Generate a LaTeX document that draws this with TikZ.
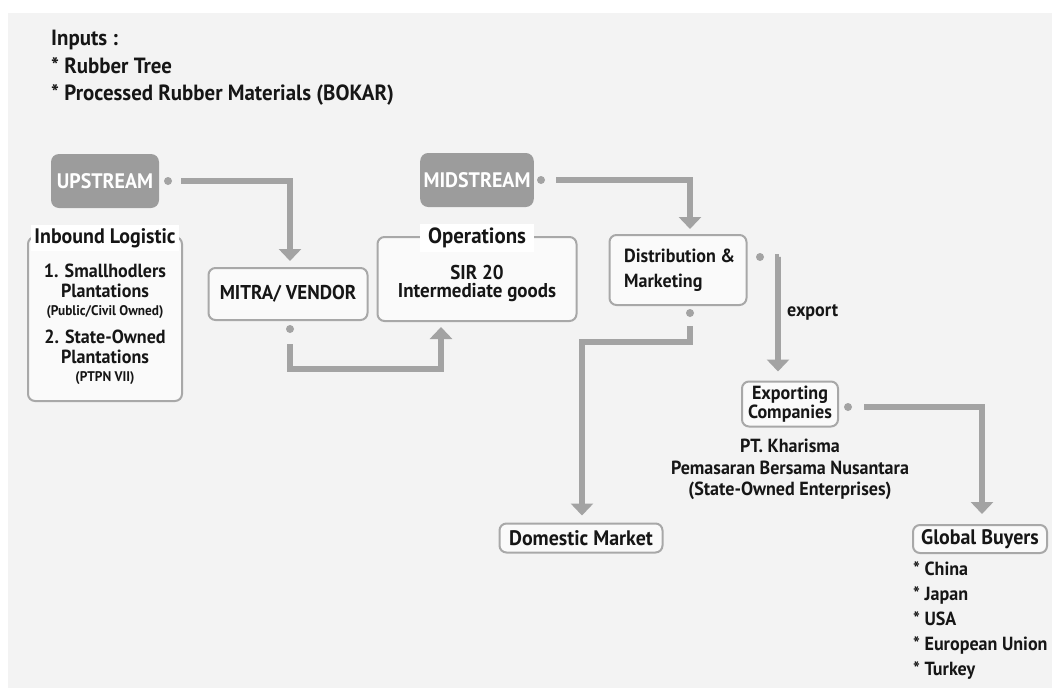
\documentclass[tikz,border=0pt]{standalone}
\usepackage{fontspec}
\setmainfont{PT Sans}[FakeStretch=0.95]
\usetikzlibrary{arrows.meta,calc}
\definecolor{bggray}{HTML}{F3F3F3}
\definecolor{flowgray}{HTML}{A3A3A3}
\definecolor{boxgray}{HTML}{A8A8A8}
\definecolor{headgray}{HTML}{9C9C9C}
\definecolor{inkgray}{HTML}{161616}
\tikzset{
  lbl/.style={font=\bfseries\fontsize{#1}{#1}\selectfont, text=inkgray, inner sep=0pt},
  lbl/.default=18,
  stage/.style={rectangle, rounded corners=8pt, fill=headgray, text=white,
    minimum width=108pt, minimum height=54pt, font=\bfseries\fontsize{21}{21}\selectfont},
  stepbox/.style={rectangle, draw=boxgray, line width=2pt, rounded corners=7pt, fill=white!55!bggray},
  flow/.style={draw=flowgray, line width=6pt, -{Triangle[width=22pt,length=12pt]}},
  dot/.style={circle, fill=flowgray, minimum size=8pt, inner sep=0pt}
}
\begin{document}
\begin{tikzpicture}[x=1pt,y=-1pt,line join=miter]
\useasboundingbox (0,0) rectangle (1052,688);
\fill[white] (0,0) rectangle (1052,688);
\fill[bggray] (8,13) rectangle (1052,688);
% inputs
\node[lbl=22, anchor=north west, align=left, font=\bfseries\fontsize{22}{27.5}\selectfont] (inputs) at (51,30)
  {Inputs :\\* Rubber Tree\\* Processed Rubber Materials (BOKAR)};
% upstream side
\node[stage] (up) at (105,181) {UPSTREAM};
\node[dot] (upDot) at (168,181) {};
\node[stepbox, minimum width=154pt, minimum height=164pt] (inbound) at (105,319) {};
\node[lbl=21, fill=white, inner xsep=3pt, inner ysep=3pt] (inboundT) at (105,238) {Inbound Logistic};
\node[lbl=19] (sh1) at (105,271) {1. Smallhodlers};
\node[lbl=19] (sh2) at (105,291) {Plantations};
\node[lbl=14] (sh3) at (105,312) {(Public/Civil Owned)};
\node[lbl=19] (so1) at (105,337) {2. State-Owned};
\node[lbl=19] (so2) at (105,357) {Plantations};
\node[lbl=14] (so3) at (105,378) {(PTPN VII)};
\node[stepbox, lbl=20, minimum width=159pt, minimum height=52pt] (mitra) at (288,294) {MITRA/ VENDOR};
\node[dot] (mitraDot) at (290,329) {};
% midstream side
\node[stage, minimum width=113pt] (mid) at (477,180) {MIDSTREAM};
\node[dot] (midDot) at (541,180) {};
\node[stepbox, minimum width=199pt, minimum height=84pt] (ops) at (477,279) {};
\node[lbl=22, fill=white, inner xsep=8pt, inner ysep=4pt] (opsT) at (477,238) {Operations};
\node[lbl=20] (sir) at (477,272) {SIR 20};
\node[lbl=20] (goods) at (477,293) {Intermediate goods};
\node[stepbox, minimum width=137pt, minimum height=70pt] (dist) at (678,270) {};
\node[lbl=19, anchor=west, align=left, font=\bfseries\fontsize{19}{25}\selectfont] (distT) at (624,270)
  {Distribution \&\\Marketing};
\node[dot] (distDotR) at (760,257) {};
\node[dot] (distDotB) at (690,313) {};
\node[lbl=19, anchor=west] (export) at (787,312) {export};
% downstream
\node[stepbox, lbl=19, align=center, minimum width=96pt, minimum height=45pt,
  font=\bfseries\fontsize{19}{17}\selectfont] (exp) at (790,404) {Exporting\\Companies};
\node[dot] (expDot) at (848,407) {};
\node[lbl=19] (pt1) at (790,446) {PT. Kharisma};
\node[lbl=19] (pt2) at (790,468) {Pemasaran Bersama Nusantara};
\node[lbl=19] (pt3) at (790,491) {(State-Owned Enterprises)};
\node[stepbox, lbl=21, minimum width=163pt, minimum height=29pt] (dom) at (581,538) {Domestic Market};
\node[stepbox, lbl=21, minimum width=134pt, minimum height=28pt] (glob) at (980,539) {Global Buyers};
\node[lbl=19, anchor=north west, align=left, font=\bfseries\fontsize{19}{25}\selectfont] (buyers) at (913,561)
  {* China\\* Japan\\* USA\\* European Union\\* Turkey};
% connectors
\draw[flow, shorten <=9pt, shorten >=6pt] (upDot) -| ([xshift=2pt]mitra.north);
\draw[flow, shorten <=11pt, shorten >=5pt] (mitraDot) |- ($(ops.south)+(-36,47)$) -- ([xshift=-36pt]ops.south);
\draw[flow, shorten <=11pt, shorten >=5pt] (midDot) -| ([xshift=12pt]dist.north);
\draw[flow, shorten <=15pt, shorten >=9pt] (distDotR) -| ([xshift=-12pt]exp.north);
\draw[flow, shorten <=9pt, shorten >=7pt] (distDotB) |- ($(dom.north)+(1,-181)$) -- ([xshift=1pt]dom.north);
\draw[flow, shorten <=12pt, shorten >=10pt] (expDot) -| ([xshift=2pt]glob.north);
\end{tikzpicture}
\end{document}
